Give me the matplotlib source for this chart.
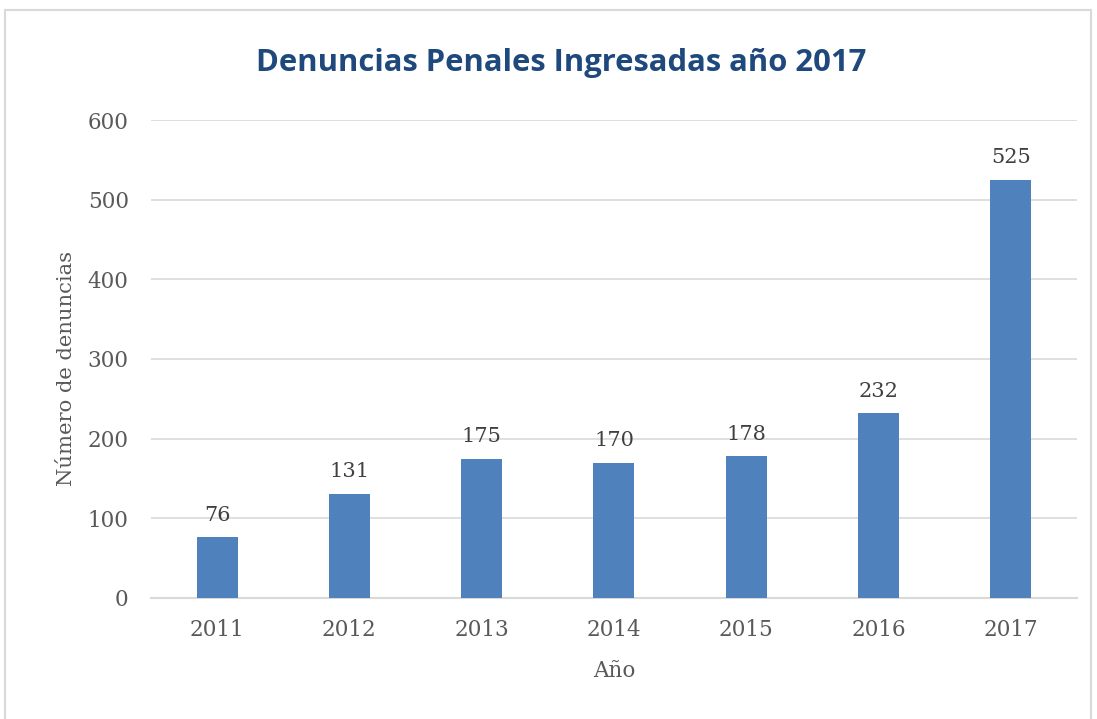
import matplotlib
matplotlib.use("Agg")
import matplotlib.pyplot as plt
from matplotlib.patches import Rectangle

# Data
years = ["2011", "2012", "2013", "2014", "2015", "2016", "2017"]
denuncias = [76, 131, 175, 170, 178, 232, 525]
yticks = [0, 100, 200, 300, 400, 500, 600]

title = "Denuncias Penales Ingresadas año 2017"
xlabel = "Año"
ylabel = "Número de denuncias"

barColor = "#4F81BD"
gridColor = "#D9D9D9"
textColor = "#595959"

fig = plt.figure(figsize=(10.97, 7.19), dpi=100)
ax = fig.add_axes([0.1376, 0.1683, 0.8442, 0.6648])

# Light frame around the whole chart, like the Excel chart area
fig.patches.append(Rectangle((5 / 1097, -0.01), 1086 / 1097, 1 - 10 / 719 + 0.01,
                             transform=fig.transFigure, fill=False,
                             edgecolor=gridColor, linewidth=1.5))

x = range(len(years))
bars = ax.bar(x, denuncias, width=0.31, color=barColor, zorder=3)

for rect, val in zip(bars, denuncias):
	ax.annotate(str(val), (rect.get_x() + rect.get_width() / 2, val),
	            xytext=(0, 9), textcoords="offset points", ha="center", va="bottom",
	            fontsize=15, family="DejaVu Serif", color="#404040")

ax.set_xlim(-0.5, len(years) - 0.5)
ax.set_ylim(0, 600)
ax.set_yticks(yticks)
ax.set_xticks(list(x))
ax.set_xticklabels(years)
ax.yaxis.grid(True, color=gridColor, linewidth=1.2, zorder=0)
ax.tick_params(length=0, labelsize=15.5, labelcolor=textColor)
ax.tick_params(axis="y", pad=16)
ax.tick_params(axis="x", pad=15)
for lbl in ax.get_xticklabels() + ax.get_yticklabels():
	lbl.set_family("DejaVu Serif")
for side in ["top", "right", "left"]:
	ax.spines[side].set_visible(False)
ax.spines["bottom"].set_color(gridColor)
ax.spines["bottom"].set_linewidth(1.5)

ax.set_xlabel(xlabel, fontsize=15.5, family="DejaVu Serif", color=textColor, labelpad=14)
ax.set_ylabel(ylabel, fontsize=15.2, family="DejaVu Serif", color=textColor)
ax.yaxis.set_label_coords(-0.081, 0.48)

fig.text(561 / 1097, 1 - 63 / 719, title, ha="center", va="center",
         fontsize=22.3, fontweight="bold", family="Open Sans", color="#1F497D")

fig.savefig("out.png", dpi=100)
